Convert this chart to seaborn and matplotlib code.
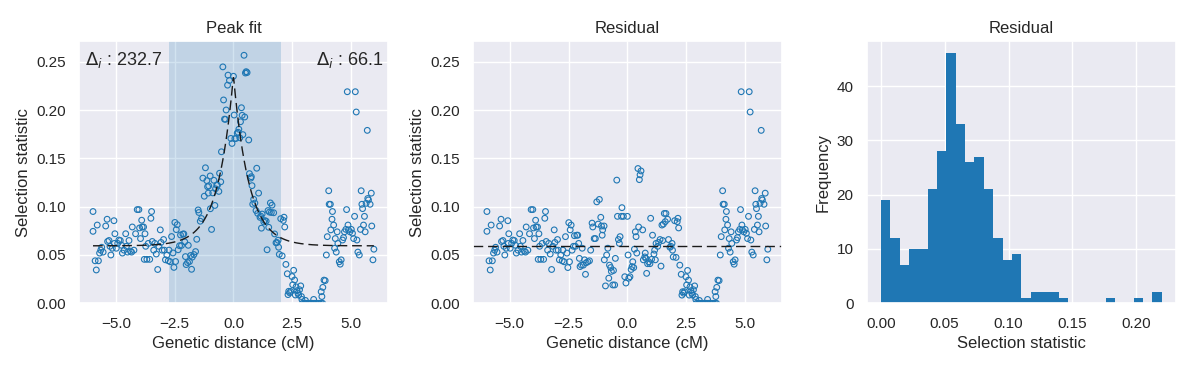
import numpy as np
import pandas as pd
import matplotlib
matplotlib.use("Agg")
import matplotlib.pyplot as plt
import seaborn as sns

# ---- data -------------------------------------------------------------
genetic_distance = [
    -5.97, -5.97, -5.88, -5.83, -5.79, -5.74, -5.69, -5.64, -5.60, -5.54,
    -5.43, -5.37, -5.35, -5.29, -5.25, -5.21, -5.15, -5.08, -5.06, -5.04,
    -4.98, -4.92, -4.87, -4.81, -4.75, -4.72, -4.65, -4.58, -4.55, -4.50,
    -4.44, -4.38, -4.33, -4.30, -4.23, -4.16, -4.09, -4.02, -3.99, -3.95,
    -3.90, -3.88, -3.82, -3.79, -3.76, -3.73, -3.68, -3.62, -3.56, -3.51,
    -3.48, -3.45, -3.39, -3.34, -3.28, -3.22, -3.17, -3.11, -3.08, -3.03,
    -2.97, -2.94, -2.89, -2.83, -2.77, -2.74, -2.69, -2.63, -2.57, -2.53,
    -2.49, -2.46, -2.43, -2.39, -2.35, -2.29, -2.25, -2.21, -2.15, -2.11,
    -2.07, -2.04, -2.01, -1.95, -1.92, -1.87, -1.82, -1.78, -1.75, -1.68,
    -1.61, -1.56, -1.50, -1.47, -1.41, -1.36, -1.30, -1.24, -1.19, -1.13,
    -1.10, -1.07, -1.05, -0.99, -0.98, -0.93, -0.88, -0.83, -0.79, -0.76,
    -0.71, -0.68, -0.62, -0.59, -0.54, -0.51, -0.45, -0.42, -0.38, -0.34,
    -0.31, -0.25, -0.23, -0.17, -0.11, -0.06, 0.00, 0.03, 0.06, 0.11,
    0.16, 0.20, 0.23, 0.27, 0.30, 0.34, 0.37, 0.40, 0.45, 0.48,
    0.51, 0.54, 0.58, 0.65, 0.68, 0.74, 0.76, 0.79, 0.82, 0.86,
    0.91, 0.96, 0.99, 1.03, 1.07, 1.13, 1.16, 1.19, 1.22, 1.29,
    1.33, 1.39, 1.43, 1.47, 1.50, 1.53, 1.57, 1.61, 1.64, 1.71,
    1.75, 1.81, 1.85, 1.90, 1.92, 1.95, 2.01, 2.07, 2.12, 2.15,
    2.18, 2.23, 2.29, 2.32, 2.35, 2.39, 2.43, 2.49, 2.52, 2.56,
    2.60, 2.63, 2.66, 2.70, 2.74, 2.77, 2.81, 2.86, 2.89, 2.91,
    2.94, 3.01, 3.06, 3.08, 3.15, 3.22, 3.30, 3.37, 3.41, 3.44,
    3.51, 3.58, 3.65, 3.72, 3.79, 3.73, 3.76, 3.80, 3.85, 3.90,
    3.95, 3.99, 4.05, 4.07, 4.12, 4.14, 4.19, 4.21, 4.26, 4.30,
    4.33, 4.37, 4.41, 4.44, 4.50, 4.54, 4.58, 4.64, 4.68, 4.72,
    4.78, 4.81, 4.84, 4.87, 4.89, 4.95, 5.01, 5.06, 5.11, 5.15,
    5.18, 5.22, 5.25, 5.29, 5.35, 5.40, 5.43, 5.46, 5.49, 5.53,
    5.57, 5.60, 5.64, 5.69, 5.71, 5.74, 5.81, 5.86, 5.88, 5.93,
    5.97,
]

residual_stat = [
    0.095, 0.0745, 0.044, 0.0345, 0.081, 0.044, 0.052, 0.055, 0.058, 0.053,
    0.080, 0.087, 0.064, 0.065, 0.059, 0.050, 0.057, 0.0855, 0.062, 0.072,
    0.057, 0.062, 0.0655, 0.065, 0.060, 0.052, 0.055, 0.072, 0.059, 0.053,
    0.065, 0.054, 0.053, 0.079, 0.055, 0.072, 0.097, 0.097, 0.078, 0.067,
    0.086, 0.079, 0.079, 0.0455, 0.072, 0.059, 0.0455, 0.062, 0.0455, 0.088,
    0.095, 0.064, 0.055, 0.062, 0.051, 0.035, 0.059, 0.076, 0.063, 0.055,
    0.066, 0.055, 0.045, 0.050, 0.044, 0.055, 0.043, 0.069, 0.052, 0.037,
    0.0835, 0.043, 0.076, 0.081, 0.055, 0.059, 0.070, 0.059, 0.0705, 0.0705,
    0.062, 0.0465, 0.038, 0.0395, 0.057, 0.0395, 0.045, 0.030, 0.042, 0.043,
    0.044, 0.055, 0.083, 0.079, 0.067, 0.067, 0.105, 0.082, 0.1075, 0.089,
    0.080, 0.0705, 0.076, 0.080, 0.045, 0.018, 0.050, 0.057, 0.026, 0.0395,
    0.037, 0.033, 0.019, 0.034, 0.019, 0.0465, 0.1275, 0.090, 0.066, 0.062,
    0.069, 0.090, 0.099, 0.090, 0.0275, 0.021, 0.090, 0.050, 0.026, 0.0275,
    0.035, 0.038, 0.043, 0.037, 0.056, 0.074, 0.069, 0.052, 0.1395, 0.079,
    0.128, 0.133, 0.137, 0.076, 0.045, 0.048, 0.052, 0.0465, 0.031, 0.041,
    0.043, 0.041, 0.088, 0.0455, 0.0705, 0.051, 0.055, 0.045, 0.062, 0.059,
    0.063, 0.066, 0.0385, 0.081, 0.065, 0.082, 0.093, 0.0845, 0.093, 0.087,
    0.066, 0.058, 0.059, 0.062, 0.055, 0.048, 0.0855, 0.0475, 0.0845, 0.088,
    0.078, 0.0395, 0.030, 0.0085, 0.012, 0.0105, 0.012, 0.0275, 0.019, 0.034,
    0.024, 0.0085, 0.017, 0.013, 0.0105, 0.0085, 0.014, 0.018, 0.007, 0.004,
    0.0, 0.0, 0.003, 0.0, 0.0, 0.0, 0.0, 0.0, 0.004, 0.0,
    0.0, 0.0, 0.0, 0.0, 0.0, 0.012, 0.007, 0.0165, 0.024, 0.0235,
    0.050, 0.069, 0.1165, 0.1025, 0.1025, 0.076, 0.087, 0.095, 0.081, 0.057,
    0.067, 0.053, 0.074, 0.062, 0.043, 0.0405, 0.045, 0.0655, 0.068, 0.074,
    0.0765, 0.097, 0.219, 0.081, 0.076, 0.074, 0.0765, 0.0725, 0.067, 0.090,
    0.219, 0.198, 0.0655, 0.053, 0.050, 0.0765, 0.1165, 0.1025, 0.098, 0.081,
    0.090, 0.074, 0.1035, 0.179, 0.1085, 0.107, 0.1025, 0.114, 0.080, 0.045,
    0.056,
]

# fitted peak model (dashed curve): baseline + height * exp(-|x - center| / decay)
peak_center = 0.0
peak_height = 0.176
peak_decay = 0.66
baseline = 0.0595

# selection signal that the residual panel has removed from the raw statistic
signal_height = 0.145
signal_sigma = 0.69

region_left = -2.74
region_right = 2.03
delta_left = 232.7
delta_right = 66.1

hist_counts = [19, 12, 7, 10, 10, 21, 28, 46, 33, 26, 27, 21, 12, 8, 9,
               1, 2, 2, 2, 1, 0, 0, 0, 0, 1, 0, 0, 1, 0, 2]
hist_min, hist_max = 0.0, 0.22

# ---- derived quantities -----------------------------------------------
x = np.asarray(genetic_distance)
resid = np.asarray(residual_stat)


def peak_model(v):
    return baseline + peak_height * np.exp(-np.abs(v - peak_center) / peak_decay)


signal = signal_height * np.exp(-0.5 * ((x - peak_center) / signal_sigma) ** 2)
stat = resid + signal

# ---- style --------------------------------------------------------------
sns.set_theme(style="darkgrid")
plt.rcParams["font.family"] = ["Liberation Sans", "DejaVu Sans"]
blue = "#1f77b4"

fig, axes = plt.subplots(1, 3, figsize=(11.91, 3.68), dpi=100)
fig.subplots_adjust(left=0.0663, right=0.9872, bottom=0.1758, top=0.8886,
                    wspace=0.275)
ax1, ax2, ax3 = axes

ytop = 0.2715

# Panel 1: peak fit
ax1.axvspan(region_left, region_right, color=blue, alpha=0.2, lw=0)
sns.scatterplot(x=x, y=stat, ax=ax1, s=17, facecolor="none",
                edgecolor=blue, linewidth=0.8)
xs = np.linspace(x.min(), x.max(), 800)
ax1.plot(xs, peak_model(xs), color="k", lw=1, dashes=(7, 3.5))
ax1.set_ylim(0, ytop)
ax1.set_title("Peak fit")
ax1.set_xlabel("Genetic distance (cM)")
ax1.set_ylabel("Selection statistic")
ax1.text(0.02, 0.965, r"$\Delta_i$ : " + f"{delta_left}", transform=ax1.transAxes,
         ha="left", va="top", fontsize=13)
ax1.text(0.985, 0.965, r"$\Delta_i$ : " + f"{delta_right}", transform=ax1.transAxes,
         ha="right", va="top", fontsize=13)

# Panel 2: residual scatter
sns.scatterplot(x=x, y=resid, ax=ax2, s=17, facecolor="none",
                edgecolor=blue, linewidth=0.8)
ax2.axhline(baseline, color="k", lw=1, dashes=(7, 3.5))
ax2.set_ylim(0, ytop)
ax2.set_xlim(ax1.get_xlim())
ax2.set_title("Residual")
ax2.set_xlabel("Genetic distance (cM)")
ax2.set_ylabel("Selection statistic")

# Panel 3: histogram of residuals
n_bins = len(hist_counts)
bin_w = (hist_max - hist_min) / n_bins
hist_df = pd.DataFrame({
    "stat": hist_min + bin_w * (np.arange(n_bins) + 0.5),
    "count": np.asarray(hist_counts, dtype=float),
})
sns.histplot(data=hist_df, x="stat", weights="count", bins=n_bins,
             binrange=(hist_min, hist_max), ax=ax3,
             color=blue, alpha=1, linewidth=0)
ax3.set_title("Residual")
ax3.set_xlabel("Selection statistic")
ax3.set_ylabel("Frequency")

fig.savefig("out.png", dpi=100)
